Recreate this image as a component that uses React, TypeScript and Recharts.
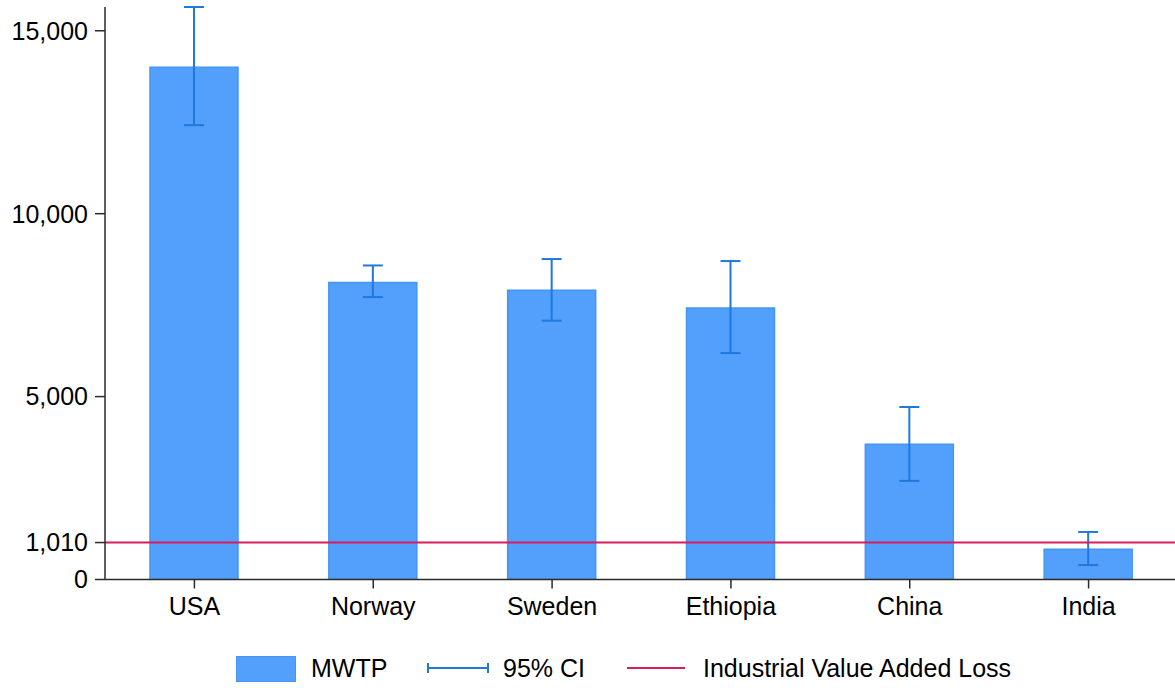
import React from 'react';
import { BarChart, Bar, XAxis, YAxis, ErrorBar, ReferenceLine, Legend } from 'recharts';

const categories = ['USA', 'Norway', 'Sweden', 'Ethiopia', 'China', 'India'];
const mwtp = [14000, 8120, 7910, 7420, 3700, 830];
const ciLow = [12420, 7720, 7075, 6190, 2695, 395];
const ciHigh = [15650, 8585, 8760, 8705, 4715, 1300];
const yTicks = [0, 1010, 5000, 10000, 15000];
const lossValue = 1010;

const data = categories.map((c, i) => ({
  country: c,
  mwtp: mwtp[i],
  err: [mwtp[i] - ciLow[i], ciHigh[i] - mwtp[i]],
}));

const FONT = '"Liberation Sans", Arial, Helvetica, sans-serif';
const BAR_FILL = '#529ffc';
const BAR_STROKE = '#4496f5';
const ERR = '#1f78e0';
const RED = '#d81d5c';
const AXIS = '#2a2a2a';

const LegendContent = () => (
  <div style={{ position: 'relative', height: 40, width: 1178, fontFamily: FONT, fontSize: 25, color: '#000' }}>
    <div style={{ position: 'absolute', left: 236, top: 8, width: 58, height: 24, background: BAR_FILL, border: `1px solid ${BAR_STROKE}` }} />
    <div style={{ position: 'absolute', left: 311, top: 0, lineHeight: '40px' }}>MWTP</div>
    <svg style={{ position: 'absolute', left: 427, top: 14 }} width={62} height={12}>
      <line x1={1} y1={6} x2={61} y2={6} stroke={ERR} strokeWidth={2} />
      <line x1={1} y1={1} x2={1} y2={11} stroke={ERR} strokeWidth={2} />
      <line x1={61} y1={1} x2={61} y2={11} stroke={ERR} strokeWidth={2} />
    </svg>
    <div style={{ position: 'absolute', left: 503, top: 0, lineHeight: '40px' }}>95% CI</div>
    <svg style={{ position: 'absolute', left: 627, top: 19 }} width={58} height={2}>
      <line x1={0} y1={1} x2={58} y2={1} stroke={RED} strokeWidth={2} />
    </svg>
    <div style={{ position: 'absolute', left: 703, top: 0, lineHeight: '40px' }}>Industrial Value Added Loss</div>
  </div>
);

export default function App() {
  return (
    <div style={{ position: 'absolute', left: 0, top: 0, width: 1175, height: 688, overflow: 'hidden', background: '#fff' }}>
      <BarChart
        width={1178}
        height={688}
        data={data}
        margin={{ top: 7, right: 0, bottom: 0, left: 0 }}
        barSize={88}
      >
        <XAxis
          dataKey="country"
          height={68.5}
          tickSize={9}
          tickMargin={9}
          stroke={AXIS}
          strokeWidth={1.5}
          tick={{ fill: '#000', fontSize: 25, fontFamily: FONT }}
          interval={0}
        />
        <YAxis
          width={105}
          domain={[0, 15650]}
          ticks={yTicks}
          allowDataOverflow
          tickSize={10}
          tickMargin={7}
          stroke={AXIS}
          strokeWidth={1.5}
          tick={{ fill: '#000', fontSize: 25, fontFamily: FONT }}
          tickFormatter={(v: number) => v.toLocaleString('en-US')}
          interval={0}
        />
        <Bar dataKey="mwtp" fill={BAR_FILL} stroke={BAR_STROKE} strokeWidth={1.5} isAnimationActive={false}>
          <ErrorBar dataKey="err" width={10} stroke={ERR} strokeWidth={2} direction="y" />
        </Bar>
        <ReferenceLine y={lossValue} stroke={RED} strokeWidth={2} ifOverflow="extendDomain" />
        <Legend verticalAlign="bottom" content={<LegendContent />} height={40} />
      </BarChart>
    </div>
  );
}
